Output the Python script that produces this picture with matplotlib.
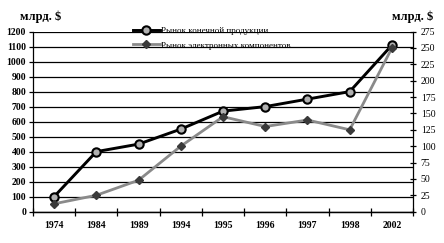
import matplotlib
matplotlib.use("Agg")
import matplotlib.pyplot as plt
import numpy as np

years = ["1974", "1984", "1989", "1994", "1995", "1996", "1997", "1998", "2002"]
final_market = [100, 400, 450, 550, 670, 700, 750, 800, 1110]       # left axis
electronic_market = [12, 25, 48, 100, 145, 130, 140, 125, 250]     # right axis
left_ticks = list(range(0, 1201, 100))
right_ticks = list(range(0, 276, 25))

plt.rcParams['font.family'] = ['Liberation Serif', 'DejaVu Serif']

fig = plt.figure(figsize=(4.44, 2.43), dpi=100)
ax = fig.add_axes([0.0743, 0.129, 0.856, 0.741])
ax2 = ax.twinx()

x = np.arange(len(years))

# gridlines at every left tick
for v in left_ticks:
    ax.axhline(v, color='black', lw=0.9, zorder=1)

l1, = ax.plot(x, final_market, color='black', lw=2.1, marker='o', ms=6,
              mfc='#b0b0b0', mec='black', mew=1.5, zorder=3)
l2, = ax2.plot(x, electronic_market, color='#8a8a8a', lw=2.0, marker='D', ms=4.5,
               mfc='#3a3a3a', mec='#3a3a3a', zorder=3)

ax.set_xlim(-0.5, len(years) - 0.5)
ax.set_ylim(0, 1200)
ax2.set_ylim(0, 275)

ax.set_yticks(left_ticks)
ax.set_yticklabels([str(v) for v in left_ticks], fontsize=7, fontweight='bold')
ax2.set_yticks(right_ticks)
ax2.set_yticklabels([str(v) for v in right_ticks], fontsize=7)

# category labels between boundary ticks
ax.set_xticks(np.arange(len(years) + 1) - 0.5)
ax.set_xticklabels([])
ax.set_xticks(x, minor=True)
ax.set_xticklabels(years, minor=True, fontsize=7, fontweight='bold')
ax.tick_params(axis='x', which='minor', length=0, pad=7)
ax.tick_params(axis='x', which='major', direction='inout', length=6, width=0.9)
ax.tick_params(axis='y', direction='out', length=3, width=0.9, pad=2)
ax2.tick_params(axis='y', direction='inout', length=5, width=0.9, pad=3)

for a in (ax, ax2):
    a.spines['top'].set_visible(False)
    for s in ('left', 'right', 'bottom'):
        a.spines[s].set_linewidth(0.9)
ax2.spines['left'].set_visible(False)
ax.spines['right'].set_visible(False)

fig.text(0.045, 0.93, "млрд. $", fontsize=9, fontweight='bold', va='center', ha='left')
fig.text(0.882, 0.93, "млрд. $", fontsize=9, fontweight='bold', va='center', ha='left')

leg = ax2.legend([l1, l2], ["Рынок конечной продукции", "Рынок электронных компонентов"],
                 loc='upper left', bbox_to_anchor=(0.262, 1.025), frameon=False,
                 fontsize=6.5, handlelength=3.0, handletextpad=0.2,
                 labelspacing=0.65, borderpad=0.0, borderaxespad=0.0)

fig.savefig("out.png", dpi=100)
